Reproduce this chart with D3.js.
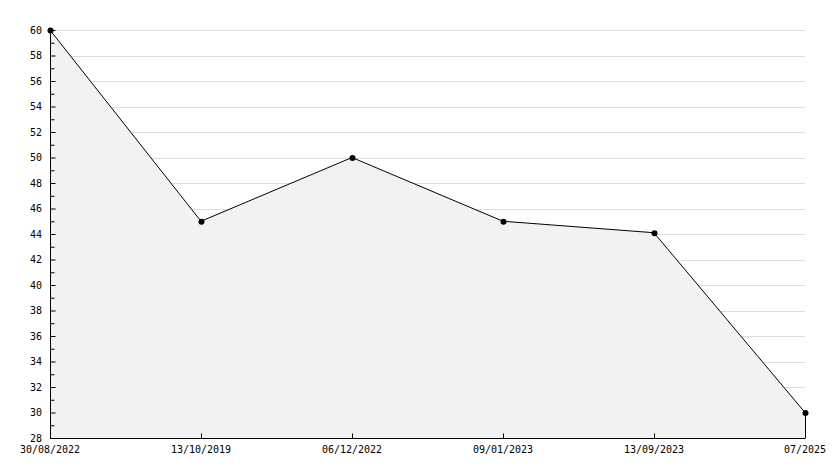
<!DOCTYPE html>
<html><head><meta charset="utf-8">
<script src="https://cdn.jsdelivr.net/npm/d3@7"></script>
<style>
body{margin:0;background:#fff;}
svg{display:block;}
text{font-family:"DejaVu Sans Mono",monospace;font-size:10px;fill:#000;}
</style></head>
<body><svg id="c" width="834" height="468"></svg>
<script>
const categories = ["30/08/2022","13/10/2019","06/12/2022","09/01/2023","13/09/2023","07/2025"];
const values = [60, 45, 50, 45, 44.1, 30];
const yTicks = [28,30,32,34,36,38,40,42,44,46,48,50,52,54,56,58,60];
const yMinorTicks = [29,31,33,35,37,39,41,43,45,47,49,51,53,55,57,59];

(function(){
const svg = d3.select("#c");
const pL = 50, pR = 805, pT = 30, pB = 438;
const x = d3.scalePoint().domain(categories).range([pL, pR]);
const y = d3.scaleLinear().domain([28, 60]).range([pB, pT]);

// grid
svg.append("g").selectAll("line").data(yTicks.filter(d => d > 28)).join("line")
  .attr("x1", pL).attr("x2", pR)
  .attr("y1", d => Math.round(y(d)) + 0.5).attr("y2", d => Math.round(y(d)) + 0.5)
  .attr("stroke", "#dddddd").attr("stroke-width", 1);

// area
const area = d3.area().x((d, i) => x(categories[i])).y0(y(28)).y1(d => y(d));
svg.append("path").datum(values).attr("d", area).attr("fill", "#f2f2f2");

// line
const line = d3.line().x((d, i) => x(categories[i])).y(d => y(d));
svg.append("path").datum(values).attr("d", line).attr("fill", "none").attr("stroke", "#000").attr("stroke-width", 1);
const xl = x(categories[categories.length-1]) + 0.5;
svg.append("line").attr("x1", xl).attr("x2", xl)
  .attr("y1", y(values[values.length-1])).attr("y2", y(28)).attr("stroke", "#000");

// y axis
const yAxis = d3.axisRight(y).tickValues(yTicks).tickSize(5).tickFormat("");
const gy = svg.append("g").attr("transform", `translate(${pL+0.5},0)`).call(yAxis);
gy.select(".domain").attr("d", `M0,${pT}V${pB}`);
const yMinor = d3.axisRight(y).tickValues(yMinorTicks).tickSize(4).tickFormat("");
const gym = svg.append("g").attr("transform", `translate(${pL+0.5},0)`).call(yMinor);
gym.select(".domain").remove();
svg.append("g").selectAll("text").data(yTicks).join("text")
  .attr("x", 42).attr("y", d => y(d)).attr("dy", "0.35em").attr("text-anchor", "end").text(d => d);

// x axis
const xAxis = d3.axisTop(x).tickSize(5).tickFormat("");
const gx = svg.append("g").attr("transform", `translate(0,${pB+0.5})`).call(xAxis);
gx.select(".domain").attr("d", `M${pL},0H${pR}`);
svg.append("g").selectAll("text").data(categories).join("text")
  .attr("x", d => x(d)).attr("y", 453).attr("text-anchor", "middle").text(d => d);

// markers
svg.append("g").selectAll("circle").data(values).join("circle")
  .attr("cx", (d, i) => x(categories[i]) + 0.5).attr("cy", d => y(d) + 0.5)
  .attr("r", 3).attr("fill", "#000");
})();
</script></body></html>
